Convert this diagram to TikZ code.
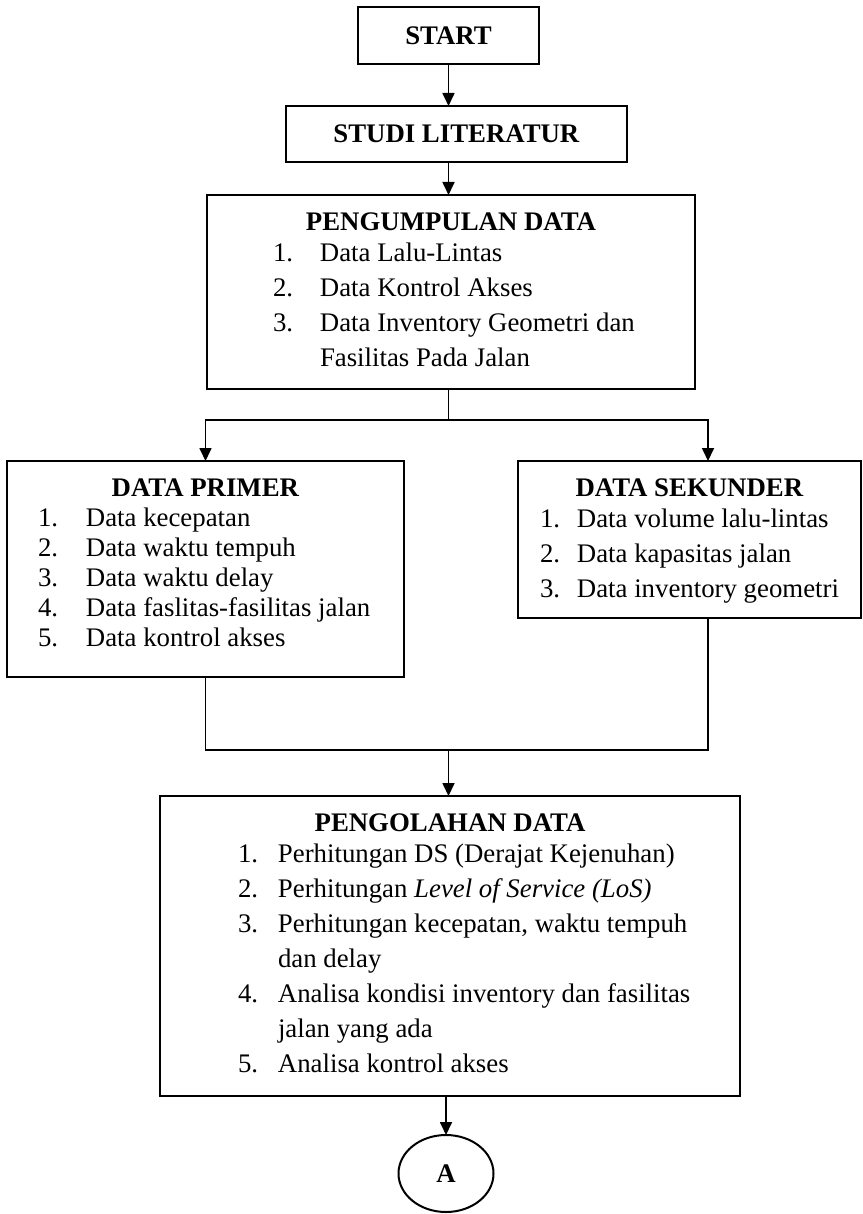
\documentclass[tikz,border=0pt]{standalone}
\usepackage{fontspec}
\setmainfont{Liberation Serif}
\usepackage{tikz}
\usetikzlibrary{positioning,shapes.geometric,arrows.meta}

\newlength{\numx}
\newlength{\numw}
\newcommand{\li}[1]{\par\noindent\hspace*{\numx}\makebox[\numw][l]{#1}}
\newcommand{\boxtitle}[1]{{\centering\rule{0pt}{17.5pt}\textbf{#1}\par}}

\begin{document}
\begin{tikzpicture}[
      proc/.style={
        draw=black, line width=1pt, fill=white, inner sep=0pt, outer sep=0pt,
        font=\fontsize{13.4}{17.5}\selectfont
      },
      conn/.style={line width=0.85pt},
      >={Triangle[width=6pt,length=6.5pt]}
      ]

  \useasboundingbox (0,0) rectangle (431pt,-607pt);

	  \node[proc, minimum width=90.5pt, minimum height=28.5pt] (start) at (224.25pt,-17.75pt) {\textbf{START}};
	  \node[proc, below = 21pt of start, xshift=4pt, minimum width=170.5pt, minimum height=28pt] (studi) {\textbf{STUDI LITERATUR}};
	  \node[proc, below = 16.5pt of studi, xshift=-2.75pt] (kumpul) {\parbox[c][97pt][t]{244pt}{%
	    \setlength{\numx}{33pt}\setlength{\numw}{23.5pt}%
	    \boxtitle{PENGUMPULAN DATA}\vspace{-2pt}
	    \li{1.}Data Lalu-Lintas
	    \li{2.}Data Kontrol Akses
	    \li{3.}Data Inventory Geometri dan
	    \li{}Fasilitas Pada Jalan}};
	  \node[proc, below = 36pt of kumpul, xshift=-122.75pt] (primer) {\parbox[c][108pt][t]{198.5pt}{%
	    \fontsize{13.4}{15}\selectfont
	    \setlength{\numx}{15.5pt}\setlength{\numw}{24pt}%
	    \boxtitle{DATA PRIMER}
	    \li{1.}Data kecepatan
	    \li{2.}Data waktu tempuh
	    \li{3.}Data waktu delay
	    \li{4.}Data faslitas-fasilitas jalan
	    \li{5.}Data kontrol akses}};
	  \node[proc, below = 36pt of kumpul, xshift=119.25pt] (sekunder) {\parbox[c][78.5pt][t]{171.5pt}{%
	    \setlength{\numx}{11pt}\setlength{\numw}{18.5pt}%
	    \boxtitle{DATA SEKUNDER}\vspace{-2pt}
	    \li{1.}Data volume lalu-lintas
	    \li{2.}Data kapasitas jalan
	    \li{3.}Data inventory geometri}};
	  \node[proc, below = 59.5pt of primer, xshift=122.25pt] (olah) {\parbox[c][150pt][t]{290pt}{%
	    \setlength{\numx}{39pt}\setlength{\numw}{20pt}%
	    \boxtitle{PENGOLAHAN DATA}\vspace{-2pt}
	    \li{1.}Perhitungan DS (Derajat Kejenuhan)
	    \li{2.}Perhitungan \textit{Level of Service (LoS)}
	    \li{3.}Perhitungan kecepatan, waktu tempuh
	    \li{}dan delay
	    \li{4.}Analisa kondisi inventory dan fasilitas
	    \li{}jalan yang ada
	    \li{5.}Analisa kontrol akses}};
	  \node[proc, ellipse, below = 19.5pt of olah, xshift=-2pt, minimum width=47.5pt, minimum height=38.5pt] (conA) {\textbf{A}};

  \coordinate (split) at ([yshift=-15.5pt]kumpul.south -| start.south);
  \coordinate (merge) at ([yshift=-36.5pt]primer.south -| split);

  % Connect the nodes

  \draw[conn,->] (start) -- (studi.north -| start);
  \draw[conn,->] (studi.south -| start) -- (kumpul.north -| start);
  \draw[conn] (kumpul.south -| split) -- (split);
  \draw[conn,->] (split) -| (primer.north);
  \draw[conn,->] (split) -| ([xshift=9.25pt]sekunder.north);
  \draw[conn] (primer.south) |- (merge);
  \draw[conn] ([xshift=9.25pt]sekunder.south) |- (merge);
  \draw[conn,->] (merge) -- (merge |- olah.north);
  \draw[conn,->] (olah.south -| conA) -- (conA);

\end{tikzpicture}
\end{document}
